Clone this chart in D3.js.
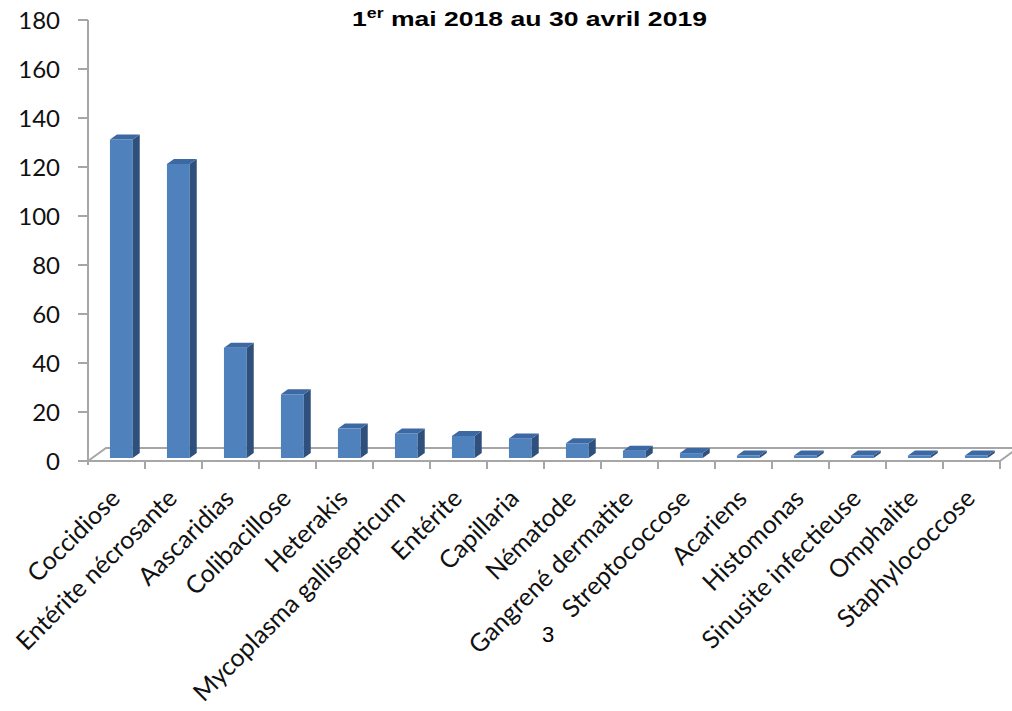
<!DOCTYPE html>
<html><head><meta charset="utf-8">
<script src="https://cdn.jsdelivr.net/npm/d3@7"></script>
<style>body{margin:0;background:#fff}svg{display:block}</style>
</head><body>
<svg id="c" width="1012" height="711"></svg>
<script>
const categories = ["Coccidiose","Entérite nécrosante","Aascaridias","Colibacillose","Heterakis","Mycoplasma gallisepticum","Entérite","Capillaria","Nématode","Gangrené dermatite","Streptococcose","Acariens","Histomonas","Sinusite infectieuse","Omphalite","Staphylococcose"];
const values = [130,120,45,26,12,10,9,8,6,3,2,1,1,1,1,1];
const yTicks = [0,20,40,60,80,100,120,140,160,180];

const svg = d3.select("#c");
const x = d3.scaleBand().domain(categories).range([88,1000]).padding(0);
const y = d3.scaleLinear().domain([0,180]).range([461,20]);
const bw = x.bandwidth();
const depthX = 18, depthY = 13;
const axisColor = "#A6A6A6";

// floor
const g = svg.append("g");
g.append("path")
  .attr("d", `M${x.range()[0]},${y(0)} L${x.range()[0]+depthX},${y(0)-depthY} L${x.range()[1]+depthX},${y(0)-depthY} M${x.range()[1]},${y(0)} L${x.range()[1]+depthX},${y(0)-depthY}`)
  .attr("fill","none").attr("stroke",axisColor).attr("stroke-width",2);
g.append("line").attr("x1",x.range()[0]).attr("x2",x.range()[1]).attr("y1",y(0)).attr("y2",y(0))
  .attr("stroke",axisColor).attr("stroke-width",2);
// x ticks
g.selectAll(".xt").data(categories).enter().append("line")
  .attr("x1",d=>x(d)+bw).attr("x2",d=>x(d)+bw).attr("y1",y(0)).attr("y2",y(0)+8)
  .attr("stroke",axisColor).attr("stroke-width",2);
// y axis
g.append("line").attr("x1",88).attr("x2",88).attr("y1",y(180)).attr("y2",y(0)+4)
  .attr("stroke",axisColor).attr("stroke-width",2);
g.selectAll(".yt").data(yTicks).enter().append("line")
  .attr("x1",78).attr("x2",88).attr("y1",d=>y(d)).attr("y2",d=>y(d))
  .attr("stroke",axisColor).attr("stroke-width",2);
g.selectAll(".yl").data(yTicks).enter().append("text")
  .attr("x",60).attr("y",d=>y(d)).attr("dy","0.36em").attr("text-anchor","end")
  .style("font-family","Lato").style("font-size","24px").attr("fill","#111").text(d=>d);

// bars
const base = y(0)-3, dX = 7, dY = 5;
const bars = svg.append("g");
categories.forEach((c,i)=>{
  const v = values[i];
  const x0 = x(c)+bw*0.385, w = bw*0.4;
  const top = y(v)-3;
  bars.append("rect").attr("x",x0).attr("y",top).attr("width",w).attr("height",base-top).attr("fill","#4F81BD");
  bars.append("path").attr("d",`M${x0+w},${top} L${x0+w+dX},${top-dY} L${x0+w+dX},${base-dY} L${x0+w},${base} Z`).attr("fill","#30507C");
  bars.append("path").attr("d",`M${x0},${top} L${x0+dX},${top-dY} L${x0+w+dX},${top-dY} L${x0+w},${top} Z`).attr("fill","#3C68A3");
});

// x labels
svg.append("g").selectAll("text").data(categories).enter().append("text")
  .attr("transform",d=>`translate(${x(d)+bw/2+5},${500}) rotate(-45)`)
  .attr("text-anchor","end")
  .style("font-family","Lato").style("font-size","25px").attr("fill","#111").text(d=>d);

// title
const t = svg.append("text").attr("x",352).attr("y",26)
  .style("font-family","Liberation Sans, Arial").style("font-weight","bold").style("font-size","21px").attr("fill","#000")
  .attr("textLength",355).attr("lengthAdjust","spacingAndGlyphs");
t.append("tspan").text("1");
t.append("tspan").attr("dy",-8).style("font-size","14px").text("er");
t.append("tspan").attr("dy",8).text(" mai 2018 au 30 avril 2019");

// stray number
svg.append("text").attr("x",542).attr("y",642).style("font-family","Liberation Sans, Arial").style("font-size","22px").attr("fill","#000").text("3");
</script>
</body></html>
